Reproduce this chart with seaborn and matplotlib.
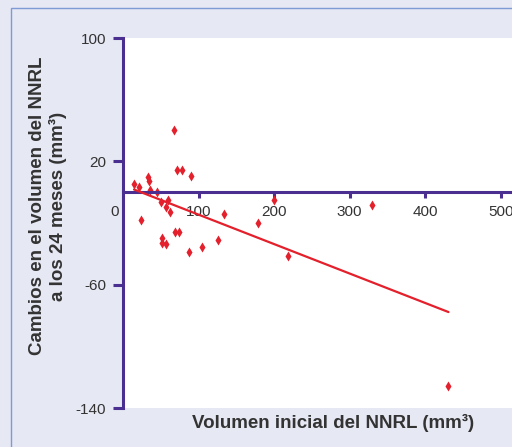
import numpy as np
import pandas as pd
import matplotlib
matplotlib.use("Agg")
import matplotlib.pyplot as plt
import matplotlib.transforms as mtransforms
import seaborn as sns
from matplotlib.patches import Rectangle

# Data
vol_inicial = [67.5, 72, 77.7, 89.6, 14.6, 21.6, 32.7, 34, 35.8, 45.5, 49.9, 59.6,
               57, 62.3, 23.4, 69.3, 74.6, 51.7, 51.7, 57.4, 87.8, 104.6, 126.2,
               134.2, 178.4, 200, 218, 329.4, 430.9]
cambio_24m = [40.1, 14.1, 14.1, 10.4, 5.0, 3.3, 9.8, 7.0, 1.1, 0.0, -6.5, -5.4,
              -9.8, -12.6, -18, -25.8, -25.8, -29.5, -32.7, -33.6, -39, -35.5, -30.8,
              -14.1, -19.7, -5.4, -41.6, -8.0, -125.5]
x_ticks = [0, 100, 200, 300, 400, 500]
y_ticks = [-140, -60, 20, 100]

df = pd.DataFrame({"x": vol_inicial, "y": cambio_24m})

sns.set_theme(style="white")
plt.rcParams['font.family'] = ['Liberation Sans', 'DejaVu Sans']

bg = "#e6e8f4"
purple = "#4a2e90"
red = "#e3202b"
txt = "#333333"

fig = plt.figure(figsize=(5.12, 4.47), dpi=100, facecolor=bg)
ax = fig.add_axes([123/512, 1 - 408/447, 1 - 123/512, (408 - 38)/447])
ax.set_facecolor("white")

sns.regplot(data=df, x="x", y="y", ax=ax, ci=None, truncate=True, marker="d",
            scatter_kws=dict(s=26, color=red, linewidths=0, alpha=1),
            line_kws=dict(color=red, lw=1.6))

ax.set_xlim(0, 515)
ax.set_ylim(-140, 100)

for s in ["top", "right"]:
    ax.spines[s].set_visible(False)
ax.spines["bottom"].set_position(("data", 0))
for s in ["left", "bottom"]:
    ax.spines[s].set_color(purple)
    ax.spines[s].set_linewidth(2.2)
    ax.spines[s].set_zorder(1)

ax.set_yticks(y_ticks)
ax.set_yticklabels([str(v) for v in y_ticks])
ax.set_xticks(x_ticks)
ax.set_xticklabels([str(v) for v in x_ticks])
ax.tick_params(axis="y", direction="out", length=7, width=2.2, color=purple,
               labelsize=11, labelcolor=txt, pad=5, left=True)
ax.tick_params(axis="x", direction="out", length=4, width=2.2, color=purple,
               labelsize=11, labelcolor=txt, pad=5, bottom=True)
t0 = ax.xaxis.get_major_ticks()[0]
t0.tick1line.set_visible(False)
t0.label1.set_ha("right")
t0.label1.set_transform(t0.label1.get_transform() +
                        mtransforms.ScaledTranslation(-3/72, 0, fig.dpi_scale_trans))

ax.set_xlabel("")
ax.set_ylabel("")
fig.text(333/512, 1 - 423/447, "Volumen inicial del NNRL (mm³)", ha="center", va="center",
         fontsize=13.5, fontweight="bold", color=txt)
fig.text(48/512, 1 - 206/447, "Cambios en el volumen del NNRL\na los 24 meses (mm³)",
         ha="center", va="center", rotation=90, fontsize=13.5, fontweight="bold",
         color=txt, linespacing=1.15)

fig.patches.append(Rectangle((11/512, -0.1), 1.2, 1 - 8/447 + 0.1, transform=fig.transFigure,
                             fill=False, edgecolor="#7f9bd6", lw=1.0))

fig.savefig("out.png", dpi=100, facecolor=bg)
